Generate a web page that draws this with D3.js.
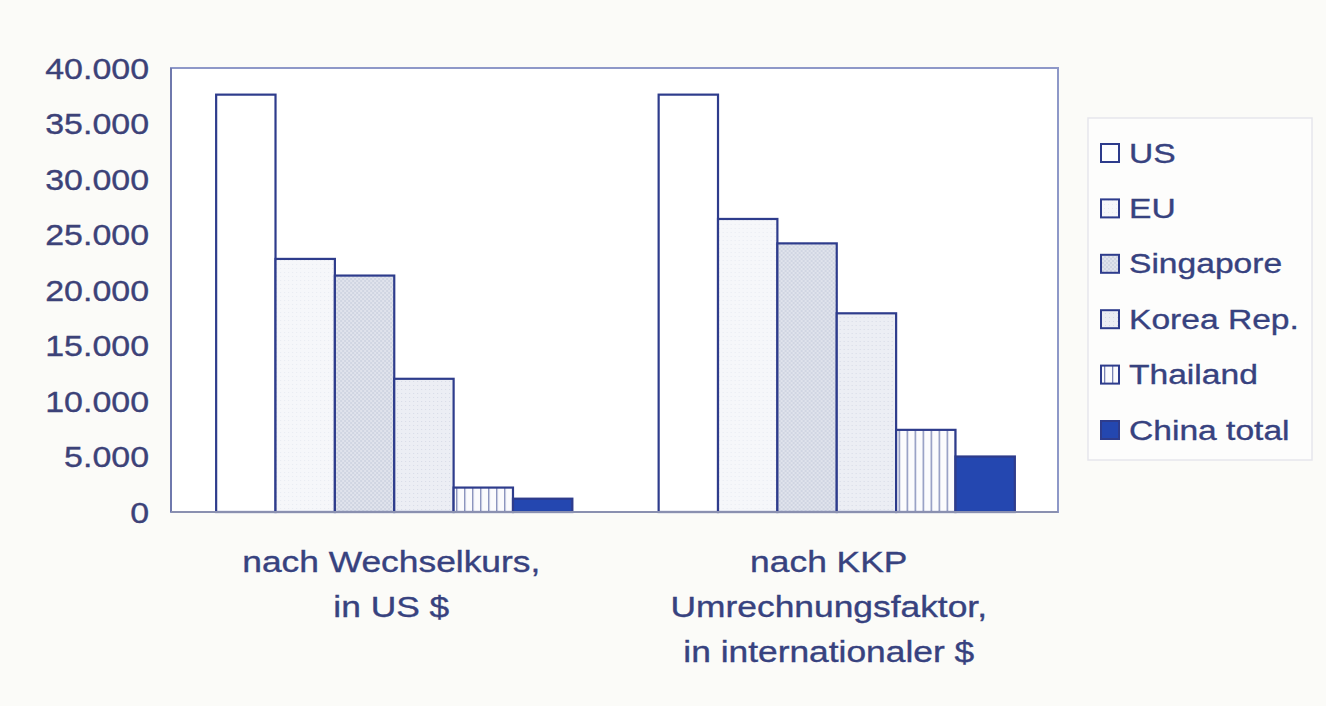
<!DOCTYPE html>
<html>
<head>
<meta charset="utf-8">
<script src="https://cdn.jsdelivr.net/npm/d3@7"></script>
<style>
  html, body { margin: 0; padding: 0; background: #fbfbf8; }
  svg { display: block; }
  text { font-family: "Liberation Sans", Arial, sans-serif; }
</style>
</head>
<body>
<svg id="chart" width="1326" height="706"></svg>
<script>
// Per-capita income comparison, two measurement bases
const groups = ["wk", "kkp"];
const groupLabels = [
  ["nach Wechselkurs,", "in US $"],
  ["nach KKP", "Umrechnungsfaktor,", "in internationaler $"]
];
const countries = ["US", "EU", "Singapore", "Korea Rep.", "Thailand", "China total"];
const valuesWechselkurs = [37600, 22800, 21300, 12000, 2200, 1200];
const valuesKKP = [37600, 26400, 24200, 17900, 7400, 5000];
const yTicks = [0, 5000, 10000, 15000, 20000, 25000, 30000, 35000, 40000];
const yTickLabels = ["0", "5.000", "10.000", "15.000", "20.000", "25.000", "30.000", "35.000", "40.000"];

const series = [valuesWechselkurs, valuesKKP];

const svg = d3.select("#chart");
const plot = { left: 171, top: 68, right: 1058, bottom: 512 };
const ink = "#2e3c8c";
const textInk = "#37427f";
const stretch = 1.17;

// Fill patterns
const defs = svg.append("defs");
function pat(id, w, h, bg, draw) {
  const p = defs.append("pattern").attr("id", id).attr("patternUnits", "userSpaceOnUse")
    .attr("width", w).attr("height", h);
  p.append("rect").attr("width", w).attr("height", h).attr("fill", bg);
  draw(p);
}
pat("pEU", 4, 4, "#f6f7fa", p => {
  p.append("rect").attr("x", 0).attr("y", 0).attr("width", 1).attr("height", 1).attr("fill", "#e8ebf2");
});
pat("pSG", 4, 4, "#e0e3ec", p => {
  p.append("rect").attr("x", 0).attr("y", 0).attr("width", 2).attr("height", 2).attr("fill", "#d0d5e2");
  p.append("rect").attr("x", 2).attr("y", 2).attr("width", 2).attr("height", 2).attr("fill", "#d0d5e2");
});
pat("pKR", 4, 4, "#eceef4", p => {
  p.append("rect").attr("x", 1).attr("y", 1).attr("width", 1).attr("height", 1).attr("fill", "#d6dae6");
});
pat("pTH", 8, 8, "#fbfbfd", p => {
  p.append("rect").attr("x", 0).attr("y", 0).attr("width", 1.3).attr("height", 8).attr("fill", "#7a84b4");
});
const fills = ["#ffffff", "url(#pEU)", "url(#pSG)", "url(#pKR)", "url(#pTH)", "#2447b0"];

// Scales
const x0 = d3.scaleBand().domain(groups).range([plot.left + 2, plot.right])
  .paddingInner(0.195).paddingOuter(0.0975);
const x1 = d3.scaleBand().domain(countries).range([0, x0.bandwidth()]);
const y = d3.scaleLinear().domain([0, 40000]).range([plot.bottom, plot.top]);

// Plot area
svg.append("rect").attr("x", plot.left).attr("y", plot.top)
  .attr("width", plot.right - plot.left).attr("height", plot.bottom - plot.top)
  .attr("fill", "#ffffff").attr("stroke", "#8e98c8").attr("stroke-width", 2);

// Bars
groups.forEach((g, gi) => {
  const gg = svg.append("g").attr("transform", `translate(${x0(g)},0)`);
  gg.selectAll("rect").data(series[gi]).join("rect")
    .attr("x", (d, i) => x1(countries[i]))
    .attr("y", d => y(d))
    .attr("width", x1.bandwidth())
    .attr("height", d => y(0) - y(d))
    .attr("fill", (d, i) => fills[i])
    .attr("stroke", ink).attr("stroke-width", 2.2);
});

// Axis lines
svg.append("line").attr("x1", plot.left).attr("x2", plot.left)
  .attr("y1", plot.top).attr("y2", plot.bottom).attr("stroke", "#6f79ad").attr("stroke-width", 2);
svg.append("line").attr("x1", plot.left).attr("x2", plot.right)
  .attr("y1", plot.bottom).attr("y2", plot.bottom).attr("stroke", "#8a90b0").attr("stroke-width", 2);

// Y tick labels
const yAxis = d3.axisLeft(y).tickValues(yTicks).tickSize(0)
  .tickFormat((d, i) => yTickLabels[i]);
const ya = svg.append("g").attr("transform", `translate(${plot.left},0)`).call(yAxis);
ya.select(".domain").remove();
ya.selectAll(".tick").each(function (d, i) {
  const tk = d3.select(this);
  tk.select("text").remove();
  tk.append("text")
    .attr("transform", `translate(-22,0) scale(${stretch},1)`)
    .attr("text-anchor", "end").attr("dominant-baseline", "central")
    .attr("font-size", 29).attr("fill", "#3c4278")
    .attr("stroke", "#3c4278").attr("stroke-width", 0.35)
    .text(yTickLabels[i]);
});

// Category labels
const labelShift = [-3, -8];
groups.forEach((g, gi) => {
  const cx = x0(g) + x0.bandwidth() / 2 + labelShift[gi];
  groupLabels[gi].forEach((line, li) => {
    svg.append("text")
      .attr("transform", `translate(${cx},${572 + li * 45}) scale(1.22,1)`)
      .attr("text-anchor", "middle").attr("font-size", 29).attr("fill", textInk)
      .attr("stroke", textInk).attr("stroke-width", 0.35)
      .text(line);
  });
});

// Legend
const lg = svg.append("g");
lg.append("rect").attr("x", 1088).attr("y", 118).attr("width", 224).attr("height", 342)
  .attr("fill", "#fdfdfc").attr("stroke", "#e6e6ec").attr("stroke-width", 1.5);
const ly = d3.scalePoint().domain(countries).range([153, 430]);
countries.forEach((c, i) => {
  lg.append("rect").attr("x", 1101).attr("y", ly(c) - 9).attr("width", 18).attr("height", 18)
    .attr("fill", fills[i]).attr("stroke", ink).attr("stroke-width", 2);
  lg.append("text")
    .attr("transform", `translate(1129,${ly(c)}) scale(1.2,1)`)
    .attr("dominant-baseline", "central").attr("font-size", 28).attr("fill", textInk)
    .attr("stroke", textInk).attr("stroke-width", 0.35)
    .text(c);
});
</script>
</body>
</html>
